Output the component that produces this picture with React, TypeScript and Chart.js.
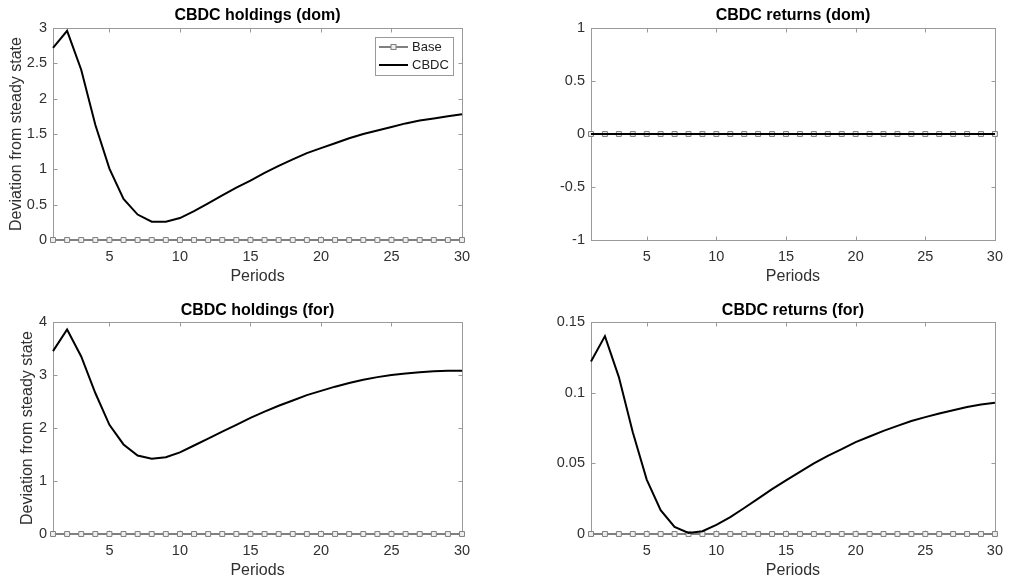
import React, { useEffect, useRef } from "react";
import { Chart, registerables } from "chart.js";

Chart.register(...registerables);

const FONT = '"Liberation Sans", Arial, Helvetica, sans-serif';

// ---- data ----
const periods = [1, 2, 3, 4, 5, 6, 7, 8, 9, 10, 11, 12, 13, 14, 15, 16, 17, 18, 19, 20, 21, 22, 23, 24, 25, 26, 27, 28, 29, 30];
const xTickValues = [5, 10, 15, 20, 25, 30];

const baseSeries = [0, 0, 0, 0, 0, 0, 0, 0, 0, 0, 0, 0, 0, 0, 0, 0, 0, 0, 0, 0, 0, 0, 0, 0, 0, 0, 0, 0, 0, 0];

const cbdcHoldingsDom = [2.72, 2.96, 2.41, 1.63, 1.01, 0.58, 0.36, 0.26, 0.26, 0.31, 0.41, 0.52, 0.63, 0.74, 0.84, 0.95, 1.05, 1.14, 1.23, 1.3, 1.37, 1.44, 1.5, 1.55, 1.6, 1.65, 1.69, 1.72, 1.75, 1.78];
const cbdcReturnsDom = [0, 0, 0, 0, 0, 0, 0, 0, 0, 0, 0, 0, 0, 0, 0, 0, 0, 0, 0, 0, 0, 0, 0, 0, 0, 0, 0, 0, 0, 0];
const cbdcHoldingsFor = [3.45, 3.86, 3.35, 2.66, 2.06, 1.69, 1.48, 1.42, 1.45, 1.54, 1.67, 1.8, 1.93, 2.06, 2.19, 2.31, 2.42, 2.52, 2.62, 2.7, 2.78, 2.85, 2.91, 2.96, 3.0, 3.03, 3.05, 3.07, 3.08, 3.08];
const cbdcReturnsFor = [0.122, 0.14, 0.111, 0.072, 0.0385, 0.0168, 0.005, 0.0007, 0.002, 0.0064, 0.012, 0.0184, 0.025, 0.0317, 0.038, 0.044, 0.05, 0.0553, 0.06, 0.065, 0.069, 0.073, 0.0765, 0.08, 0.0827, 0.0853, 0.0876, 0.0898, 0.0917, 0.0928];

const panelTitles = ["CBDC holdings (dom)", "CBDC returns (dom)", "CBDC holdings (for)", "CBDC returns (for)"];
const seriesNames = ["Base", "CBDC"];
const xAxisTitle = "Periods";
const yAxisTitle = "Deviation from steady state";

type Panel = {
  title: string;
  values: number[];
  yMin: number;
  yMax: number;
  yStep: number;
  showYTitle: boolean;
  legend: boolean;
  left: number;
  top: number;
  width: number;
  height: number;
  axisW: number;
  axisH: number;
  padTop: number;
  padRight: number;
  titleY: number;
  yTitleX: number;
};

const panels: Panel[] = [
  { title: panelTitles[0], values: cbdcHoldingsDom, yMin: 0, yMax: 3, yStep: 0.5, showYTitle: true, legend: true,
    left: 0, top: 0, width: 505, height: 291, axisW: 53, axisH: 51, padTop: 28, padRight: 43, titleY: 16, yTitleX: 17 },
  { title: panelTitles[1], values: cbdcReturnsDom, yMin: -1, yMax: 1, yStep: 0.5, showYTitle: false, legend: false,
    left: 505, top: 0, width: 506, height: 291, axisW: 86, axisH: 51, padTop: 28, padRight: 12, titleY: 16, yTitleX: 0 },
  { title: panelTitles[2], values: cbdcHoldingsFor, yMin: 0, yMax: 4, yStep: 1, showYTitle: true, legend: false,
    left: 0, top: 291, width: 505, height: 291, axisW: 53, axisH: 48, padTop: 31, padRight: 43, titleY: 20, yTitleX: 28 },
  { title: panelTitles[3], values: cbdcReturnsFor, yMin: 0, yMax: 0.15, yStep: 0.05, showYTitle: false, legend: false,
    left: 505, top: 291, width: 506, height: 291, axisW: 86, axisH: 48, padTop: 31, padRight: 12, titleY: 20, yTitleX: 0 },
];

const AXIS_COLOR = "#9a9a9a";
const TEXT_COLOR = "#303030";
const BASE_COLOR = "#808080";

function fmt(v: number) {
  return String(Math.round(v * 10000) / 10000);
}

function framePlugin(p: Panel) {
  return {
    id: "frame",
    beforeDatasetsDraw(chart: any) {
      const { ctx, chartArea } = chart;
      const { left, right, top, bottom } = chartArea;
      const xs = chart.scales.x;
      const ys = chart.scales.y;
      ctx.save();
      ctx.strokeStyle = AXIS_COLOR;
      ctx.lineWidth = 1;
      const L = Math.round(left) + 0.5;
      const R = Math.round(right) + 0.5;
      const T = Math.round(top) + 0.5;
      const B = Math.round(bottom) + 0.5;
      ctx.strokeRect(L, T, R - L, B - T);
      const tl = 4;
      ctx.beginPath();
      xs.ticks.forEach((t: any) => {
        const px = Math.round(xs.getPixelForValue(t.value)) + 0.5;
        ctx.moveTo(px, B);
        ctx.lineTo(px, B - tl);
        ctx.moveTo(px, T);
        ctx.lineTo(px, T + tl);
      });
      ys.ticks.forEach((t: any) => {
        const py = Math.round(ys.getPixelForValue(t.value)) + 0.5;
        ctx.moveTo(L, py);
        ctx.lineTo(L + tl, py);
        ctx.moveTo(R, py);
        ctx.lineTo(R - tl, py);
      });
      ctx.stroke();
      ctx.restore();
    },
    afterDraw(chart: any) {
      const { ctx, chartArea } = chart;
      const { left, right, top, bottom } = chartArea;
      const cx = (left + right) / 2;
      ctx.save();
      // title
      ctx.fillStyle = "#000";
      ctx.font = `bold 16px ${FONT}`;
      ctx.textAlign = "center";
      ctx.textBaseline = "middle";
      ctx.fillText(p.title, cx, p.titleY);
      // x title
      ctx.fillStyle = TEXT_COLOR;
      ctx.font = `16px ${FONT}`;
      ctx.fillText(xAxisTitle, cx, bottom + 37);
      // y title
      if (p.showYTitle) {
        ctx.save();
        ctx.translate(p.yTitleX, (top + bottom) / 2);
        ctx.rotate(-Math.PI / 2);
        ctx.fillText(yAxisTitle, 0, 0);
        ctx.restore();
      }
      // legend
      if (p.legend) {
        const bx = 375.5, by = 37.5, bw = 78, bh = 38;
        ctx.fillStyle = "#fff";
        ctx.fillRect(bx, by, bw, bh);
        ctx.strokeStyle = AXIS_COLOR;
        ctx.lineWidth = 1;
        ctx.strokeRect(bx, by, bw, bh);
        const rows = [
          { name: seriesNames[0], color: BASE_COLOR, marker: true, y: 47 },
          { name: seriesNames[1], color: "#000", marker: false, y: 65 },
        ];
        rows.forEach((r) => {
          ctx.strokeStyle = r.color;
          ctx.lineWidth = 2;
          ctx.beginPath();
          ctx.moveTo(379, r.y);
          ctx.lineTo(408, r.y);
          ctx.stroke();
          if (r.marker) {
            ctx.fillStyle = "#eeeeee";
            ctx.lineWidth = 1;
            ctx.fillRect(391, r.y - 2.5, 5, 5);
            ctx.strokeRect(391, r.y - 2.5, 5, 5);
          }
          ctx.fillStyle = "#222";
          ctx.font = `13px ${FONT}`;
          ctx.textAlign = "left";
          ctx.textBaseline = "middle";
          ctx.fillText(r.name, 412, r.y);
        });
      }
      ctx.restore();
    },
  };
}

function PanelChart({ p }: { p: Panel }) {
  const ref = useRef<HTMLCanvasElement>(null);
  useEffect(() => {
    const chart = new Chart(ref.current as HTMLCanvasElement, {
      type: "line",
      data: {
        datasets: [
          {
            label: seriesNames[1],
            data: periods.map((x, i) => ({ x, y: p.values[i] })),
            borderColor: "#000",
            backgroundColor: "#000",
            borderWidth: 2,
            pointRadius: 0,
            tension: 0,
            order: 0,
            clip: false as any,
          },
          {
            label: seriesNames[0],
            data: periods.map((x, i) => ({ x, y: baseSeries[i] })),
            borderColor: BASE_COLOR,
            backgroundColor: BASE_COLOR,
            borderWidth: 2,
            pointStyle: "rect",
            pointRadius: 3.5,
            pointBorderWidth: 1,
            pointBorderColor: BASE_COLOR,
            pointBackgroundColor: "#eeeeee",
            tension: 0,
            order: 1,
            clip: false as any,
          },
        ],
      },
      options: {
        animation: false,
        responsive: false,
        events: [],
        layout: { padding: { top: p.padTop, right: p.padRight, left: 0, bottom: 0 } },
        plugins: {
          legend: { display: false },
          title: { display: false },
          tooltip: { enabled: false },
        },
        scales: {
          x: {
            type: "linear",
            min: 1,
            max: 30,
            grid: { display: false, drawTicks: false, tickLength: 0 },
            border: { display: false },
            ticks: {
              color: TEXT_COLOR,
              font: { family: FONT, size: 14.5 },
              padding: 8,
              maxRotation: 0,
              autoSkip: false,
              callback: (v: any) => fmt(Number(v)),
            },
            afterBuildTicks: (s: any) => {
              s.ticks = xTickValues.map((v) => ({ value: v }));
            },
            afterFit: (s: any) => {
              s.height = p.axisH;
            },
          },
          y: {
            type: "linear",
            min: p.yMin,
            max: p.yMax,
            grid: { display: false, drawTicks: false, tickLength: 0 },
            border: { display: false },
            ticks: {
              stepSize: p.yStep,
              color: TEXT_COLOR,
              font: { family: FONT, size: 14.5 },
              padding: 6,
              autoSkip: false,
              callback: (v: any) => fmt(Number(v)),
            },
            afterFit: (s: any) => {
              s.width = p.axisW;
            },
          },
        },
      } as any,
      plugins: [framePlugin(p)],
    });
    return () => chart.destroy();
  }, []);
  return (
    <canvas
      ref={ref}
      width={p.width}
      height={p.height}
      style={{ position: "absolute", left: p.left, top: p.top, width: p.width, height: p.height, display: "block" }}
    />
  );
}

export default function App() {
  return (
    <div style={{ position: "absolute", left: 0, top: 0, width: 1011, height: 582, background: "#fff", overflow: "hidden" }}>
      {panels.map((p, i) => (
        <PanelChart key={i} p={p} />
      ))}
    </div>
  );
}
